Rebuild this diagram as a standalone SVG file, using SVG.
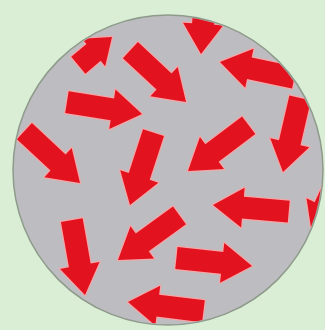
<svg xmlns="http://www.w3.org/2000/svg" xmlns:xlink="http://www.w3.org/1999/xlink" width="325" height="330" viewBox="0 0 325 330">
  <style>
    .arr { fill: #e2121e; stroke: #f3a7a8; stroke-width: 2.5; stroke-linejoin: round; paint-order: stroke; }
  </style>
  <defs>
    <path id="ar" d="M0,0 L-30,-20 L-30,-11 L-76,-11 L-76,11 L-30,11 L-30,20 Z"/>
    <path id="ars" d="M0,0 L-24,-18 L-24,-11 L-44,-11 L-44,11 L-24,11 L-24,18 Z"/>
    <clipPath id="clip"><circle cx="168" cy="170" r="154"/></clipPath>
  </defs>
  <rect x="0" y="0" width="325" height="330" fill="#daeed5"/>
  <circle cx="168" cy="170" r="155" fill="#bdbcc1" stroke="#8e9b8b" stroke-width="1.5"/>
  <g id="arrows" clip-path="url(#clip)">
    <use class="arr" xlink:href="#ars" transform="translate(112,37) rotate(-40)"/>
    <use class="arr" xlink:href="#ar" transform="translate(201,54) rotate(94)"/>
    <use class="arr" xlink:href="#ar" transform="translate(186,102) rotate(43)"/>
    <use class="arr" xlink:href="#ar" transform="translate(220,62) rotate(192)"/>
    <use class="arr" xlink:href="#ar" transform="translate(142,114) rotate(9)"/>
    <use class="arr" xlink:href="#ar" transform="translate(283,172) rotate(103)"/>
    <use class="arr" xlink:href="#ar" transform="translate(188,171) rotate(143)"/>
    <use class="arr" xlink:href="#ar" transform="translate(80,183) rotate(43)"/>
    <use class="arr" xlink:href="#ar" transform="translate(130,205) rotate(108)"/>
    <use class="arr" xlink:href="#ar" transform="translate(213,205) rotate(185)"/>
    <use class="arr" xlink:href="#ar" transform="translate(312,234) rotate(115)"/>
    <use class="arr" xlink:href="#ar" transform="translate(85,295) rotate(80)"/>
    <use class="arr" xlink:href="#ar" transform="translate(118,260) rotate(144)"/>
    <use class="arr" xlink:href="#ar" transform="translate(252,266) rotate(6)"/>
    <use class="arr" xlink:href="#ar" transform="translate(128,302) rotate(187)"/>
  </g>
</svg>
